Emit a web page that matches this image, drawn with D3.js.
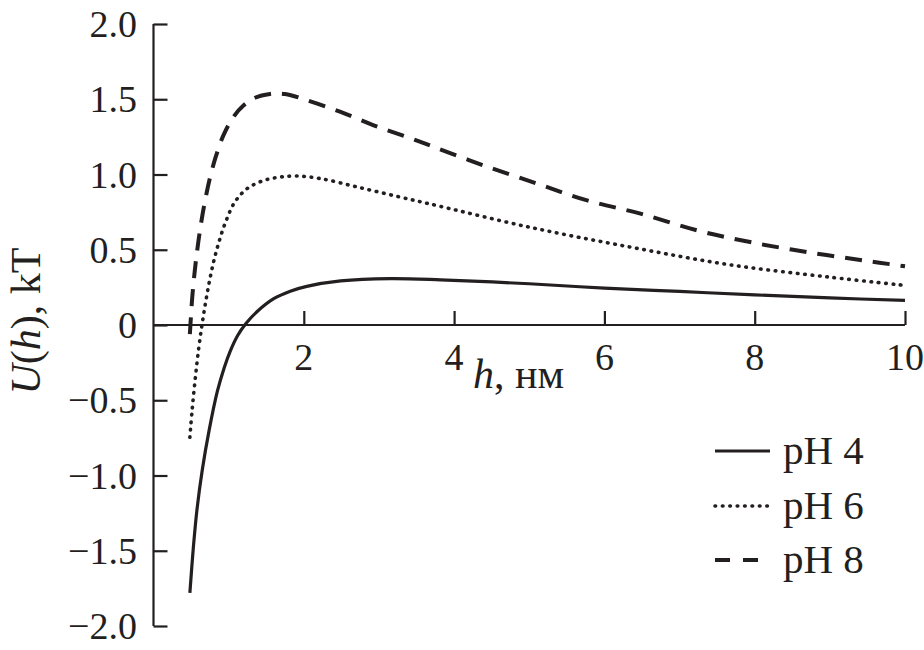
<!DOCTYPE html>
<html>
<head>
<meta charset="utf-8">
<script src="https://cdn.jsdelivr.net/npm/d3@7"></script>
<style>
  html, body { margin: 0; padding: 0; background: #fff; }
  svg { display: block; }
  text { font-family: "Liberation Serif", "Times New Roman", serif; fill: #231f20; }
</style>
</head>
<body>
<svg id="chart" width="924" height="650"></svg>
<script>
// ---- data ----
const xTicks = [2, 4, 6, 8, 10];
const yTicks = [-2.0, -1.5, -1.0, -0.5, 0, 0.5, 1.0, 1.5, 2.0];
const yTickLabels = ["\u22122.0", "\u22121.5", "\u22121.0", "\u22120.5", "0", "0.5", "1.0", "1.5", "2.0"];
const seriesNames = ["pH 4", "pH 6", "pH 8"];

const h4 = [0.484, 0.53, 0.58, 0.65, 0.74, 0.85, 0.94, 1.02, 1.12, 1.23, 1.38, 1.6, 1.82, 2.04, 2.49, 3.15, 3.82, 5.0, 6.0, 7.0, 8.0, 9.0, 10.0];
const u4 = [-1.78, -1.48, -1.22, -0.96, -0.70, -0.44, -0.285, -0.175, -0.07, 0.01, 0.09, 0.175, 0.225, 0.257, 0.293, 0.308, 0.30, 0.274, 0.245, 0.223, 0.20, 0.18, 0.163];

const h6 = [0.484, 0.515, 0.559, 0.603, 0.645, 0.69, 0.74, 0.80, 0.87, 0.96, 1.08, 1.245, 1.47, 1.69, 1.91, 2.22, 2.71, 3.28, 3.8, 5.0, 6.34, 7.67, 9.0, 10.0];
const u6 = [-0.746, -0.56, -0.34, -0.15, 0, 0.14, 0.28, 0.42, 0.55, 0.685, 0.815, 0.906, 0.961, 0.983, 0.99, 0.973, 0.917, 0.85, 0.79, 0.65, 0.518, 0.40, 0.318, 0.263];

const h8 = [0.484, 0.495, 0.515, 0.545, 0.58, 0.625, 0.68, 0.75, 0.83, 0.93, 1.06, 1.2, 1.35, 1.55, 1.75, 2.04, 2.49, 2.93, 3.37, 3.73, 4.39, 5.1, 5.77, 6.48, 7.23, 7.94, 8.69, 9.45, 10.0];
const u8 = [-0.06, 0.03, 0.18, 0.34, 0.49, 0.65, 0.81, 0.975, 1.12, 1.26, 1.38, 1.46, 1.51, 1.535, 1.535, 1.494, 1.416, 1.327, 1.25, 1.183, 1.061, 0.94, 0.828, 0.74, 0.629, 0.551, 0.485, 0.429, 0.39];

// ---- drawing ----
const ink = "#231f20";
const svg = d3.select("#chart");
const x = d3.scaleLinear().domain([0, 10]).range([153.5, 905]);
const y = d3.scaleLinear().domain([-2, 2]).range([626, 24]);

const styles = [
  { width: 3.2, dash: null, cap: "butt" },
  { width: 3.6, dash: "0.6 6.8", cap: "round" },
  { width: 4, dash: "17 11", cap: "butt" }
];
const series = [
  { name: seriesNames[0], pts: h4.map((h, i) => [h, u4[i]]), st: styles[0] },
  { name: seriesNames[1], pts: h6.map((h, i) => [h, u6[i]]), st: styles[1] },
  { name: seriesNames[2], pts: h8.map((h, i) => [h, u8[i]]), st: styles[2] }
];

// y axis
const yAxis = d3.axisRight(y).tickValues(yTicks).tickSize(14).tickFormat("");
const gy = svg.append("g").attr("transform", `translate(${x(0)},0)`).call(yAxis);
gy.select(".domain").attr("stroke", ink).attr("stroke-width", 2.2).attr("d", `M0,${y(2)}V${y(-2)}`);
gy.selectAll(".tick line").attr("stroke", ink).attr("stroke-width", 2.2);
svg.append("g").selectAll("text").data(yTicks).join("text")
  .attr("x", 137).attr("y", d => y(d) + 13)
  .attr("text-anchor", "end").attr("font-size", 38)
  .text((d, i) => yTickLabels[i]);

// x axis
const xAxis = d3.axisTop(x).tickValues(xTicks).tickSize(14).tickFormat("");
const gx = svg.append("g").attr("transform", `translate(0,${y(0)})`).call(xAxis);
gx.select(".domain").attr("stroke", ink).attr("stroke-width", 2.2).attr("d", `M${x(0)},0H${x(10)}`);
gx.selectAll(".tick line").attr("stroke", ink).attr("stroke-width", 2.2);
svg.append("g").selectAll("text").data(xTicks).join("text")
  .attr("x", d => x(d)).attr("y", y(0) + 45)
  .attr("text-anchor", "middle").attr("font-size", 38)
  .text(d => d);

// axis titles
const xt = svg.append("text").attr("x", 473).attr("y", 388).attr("font-size", 42);
xt.append("tspan").attr("font-style", "italic").text("h");
xt.append("tspan").text(", нм");

const yt = svg.append("text").attr("transform", "translate(40,321) rotate(-90)")
  .attr("text-anchor", "middle").attr("font-size", 42);
yt.append("tspan").attr("font-style", "italic").text("U");
yt.append("tspan").text("(");
yt.append("tspan").attr("font-style", "italic").text("h");
yt.append("tspan").text("), kT");

// lines
const line = d3.line().x(d => x(d[0])).y(d => y(d[1])).curve(d3.curveCatmullRom.alpha(0.5));
svg.append("g").selectAll("path").data(series).join("path")
  .attr("d", d => line(d.pts))
  .attr("fill", "none").attr("stroke", ink)
  .attr("stroke-width", d => d.st.width)
  .attr("stroke-dasharray", d => d.st.dash)
  .attr("stroke-linecap", d => d.st.cap)
  .attr("stroke-linejoin", "round");

// legend
const legY = [451, 506, 560];
const legDash = [null, "0.6 6.8", "15 13"];
const lg = svg.append("g").selectAll("g").data(series).join("g");
lg.append("line").attr("x1", 715).attr("x2", (d, i) => i === 2 ? 758 : 770)
  .attr("y1", (d, i) => legY[i]).attr("y2", (d, i) => legY[i])
  .attr("stroke", ink).attr("stroke-width", d => d.st.width)
  .attr("stroke-dasharray", (d, i) => legDash[i])
  .attr("stroke-linecap", d => d.st.cap);
lg.append("text").attr("x", 783).attr("y", (d, i) => legY[i] + 13)
  .attr("font-size", 41).text(d => d.name);
</script>
</body>
</html>
